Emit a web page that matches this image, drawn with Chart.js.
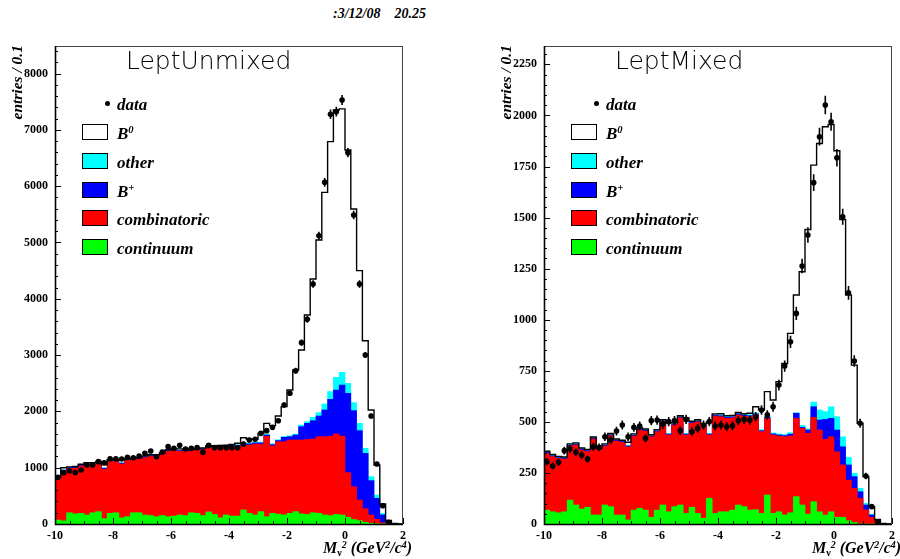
<!DOCTYPE html>
<html>
<head>
<meta charset="utf-8">
<script src="https://cdn.jsdelivr.net/npm/chart.js@4.4.0/dist/chart.umd.min.js"></script>
<style>
  body { margin: 0; width: 900px; height: 559px; overflow: hidden; background: #fff; position: relative;
         font-family: "Liberation Serif", "DejaVu Serif", serif; }
  .panel { position: absolute; top: 0; width: 411px; height: 559px; }
  .panel canvas { position: absolute; left: 0; top: 0; }
  .txt { position: absolute; font-weight: bold; font-style: italic; color: #000; white-space: nowrap; line-height: 1; }
  .ytitle { left: 9px; top: 45px; font-size: 15.5px; transform-origin: 0 0; transform: rotate(-90deg) translateX(-100%); }
  .xtitle { left: 323px; top: 540px; font-size: 16px; }
  .xtitle sub { font-size: 10px; vertical-align: -3px; font-style: normal; }
  .xtitle sup, .leg sup { font-size: 0.62em; vertical-align: 0.55em; }
  .title { position: absolute; left: 126px; top: 48px; font-family: "DejaVu Sans", sans-serif; font-weight: 200;
           font-size: 25px; line-height: 1; color: #000; white-space: nowrap; }
  .box { position: absolute; left: 82px; width: 24px; height: 14px; border: 1px solid #000; }
  .leg { position: absolute; left: 117px; font-size: 17px; font-weight: bold; font-style: italic; line-height: 1; white-space: nowrap; }
  .dot { position: absolute; left: 105px; top: 101px; width: 5px; height: 5px; border-radius: 50%; background: #000; }
  #date { left: 333px; top: 7px; font-size: 14px; white-space: pre; }
</style>
</head>
<body>
<div class="txt" id="date">:3/12/08    20.25</div>

<div class="panel" style="left:0px">
  <canvas id="unmixed" width="411" height="559"></canvas>
  <div class="title">LeptUnmixed</div>
  <div class="txt ytitle">entries / 0.1</div>
  <div class="txt xtitle">M<sub>ν</sub><sup>2</sup> (GeV<sup>2</sup>/c<sup>4</sup>)</div>
  <div class="dot"></div><div class="leg" style="top:96px">data</div>
  <div class="box" style="top:124px;background:#fff"></div><div class="leg" style="top:125px">B<sup>0</sup></div>
  <div class="box" style="top:153px;background:#00ffff"></div><div class="leg" style="top:154px">other</div>
  <div class="box" style="top:182px;background:#0000ff"></div><div class="leg" style="top:183px">B<sup>+</sup></div>
  <div class="box" style="top:210px;background:#ff0000"></div><div class="leg" style="top:211px">combinatoric</div>
  <div class="box" style="top:239px;background:#00ff00"></div><div class="leg" style="top:240px">continuum</div>
</div>

<div class="panel" style="left:489px">
  <canvas id="mixed" width="411" height="559"></canvas>
  <div class="title">LeptMixed</div>
  <div class="txt ytitle">entries / 0.1</div>
  <div class="txt xtitle">M<sub>ν</sub><sup>2</sup> (GeV<sup>2</sup>/c<sup>4</sup>)</div>
  <div class="dot"></div><div class="leg" style="top:96px">data</div>
  <div class="box" style="top:124px;background:#fff"></div><div class="leg" style="top:125px">B<sup>0</sup></div>
  <div class="box" style="top:153px;background:#00ffff"></div><div class="leg" style="top:154px">other</div>
  <div class="box" style="top:182px;background:#0000ff"></div><div class="leg" style="top:183px">B<sup>+</sup></div>
  <div class="box" style="top:210px;background:#ff0000"></div><div class="leg" style="top:211px">combinatoric</div>
  <div class="box" style="top:239px;background:#00ff00"></div><div class="leg" style="top:240px">continuum</div>
</div>

<script>
// 60 bins of 0.2 from -10 to 2
const BIN_LO = -10;
const BIN_W = 0.2;

// --- LeptUnmixed ---
// stack tops (each one is the upper edge of that fill)
const unmixedCont = [70, 55, 200, 180, 190, 160, 200, 220, 95, 190, 200, 110, 130, 200, 200, 160, 150, 130, 150, 130, 140, 160, 150, 200, 190, 150, 215, 170, 110, 160,
  140, 140, 250, 190, 160, 220, 130, 190, 175, 160, 190, 220, 180, 170, 200, 190, 160, 150, 170, 160, 120, 80, 60, 30, 12, 5, 0, 0, 0, 0];
const unmixedComb = [790, 940, 985, 990, 1030, 1040, 1060, 1080, 975, 1110, 1110, 1066, 1130, 1140, 1150, 1180, 1200, 1200, 1230, 1290, 1310, 1290, 1290, 1300, 1310, 1320, 1360, 1360, 1365, 1370,
  1374, 1374, 1403, 1403, 1420, 1420, 1560, 1390, 1462, 1462, 1492, 1492, 1492, 1500, 1510, 1551, 1551, 1560, 1599, 1560, 912, 663, 426, 272, 160, 83, 24, 5, 0, 0];
const unmixedBplus = [805, 955, 1000, 1005, 1045, 1055, 1075, 1095, 990, 1125, 1125, 1081, 1145, 1155, 1165, 1195, 1215, 1215, 1245, 1305, 1325, 1305, 1305, 1315, 1325, 1335, 1375, 1375, 1380, 1385,
  1394, 1394, 1423, 1423, 1440, 1440, 1580, 1410, 1482, 1539, 1551, 1581, 1729, 1788, 1835, 1918, 2025, 2214, 2380, 2469, 2321, 2013, 1658, 1255, 770, 456, 160, 41, 5, 0];
const unmixedOther = [815, 965, 1010, 1015, 1055, 1065, 1085, 1105, 1000, 1135, 1135, 1091, 1155, 1165, 1175, 1205, 1225, 1225, 1255, 1315, 1335, 1315, 1315, 1325, 1335, 1345, 1385, 1385, 1390, 1395,
  1409, 1409, 1438, 1438, 1455, 1455, 1595, 1425, 1497, 1554, 1566, 1596, 1758, 1818, 1895, 1977, 2131, 2350, 2605, 2694, 2499, 2155, 1788, 1344, 841, 515, 189, 59, 8, 0];
const unmixedTotal = [830, 1000, 1015, 1020, 1060, 1090, 1090, 1110, 1050, 1140, 1140, 1130, 1160, 1170, 1180, 1210, 1230, 1230, 1260, 1320, 1340, 1335, 1320, 1330, 1340, 1350, 1390, 1390, 1395, 1400,
  1415, 1433, 1533, 1504, 1504, 1610, 1788, 1747, 1918, 2084, 2380, 2735, 3091, 3712, 4352, 5044, 5891, 6791, 7353, 7373, 6643, 5595, 4500, 3256, 2025, 1048, 355, 62, 8, 0];
const unmixedData = [830, 912, 941, 912, 959, 1048, 1048, 1107, 1089, 1160, 1160, 1154, 1184, 1178, 1208, 1255, 1296, 1196, 1279, 1374, 1344, 1397, 1332, 1344, 1356, 1273, 1397, 1356, 1356, 1356,
  1356, 1356, 1421, 1492, 1504, 1610, 1658, 1717, 1835, 2114, 2321, 2723, 3221, 3636, 4263, 5121, 6069, 7277, 7324, 7531, 6596, 5488, 4263, 3002, 1918, 1066, 325, 30, 0, 0];

// --- LeptMixed ---
const mixedCont = [68, 60, 55, 60, 117, 93, 73, 82, 44, 44, 93, 85, 44, 44, 20, 68, 77, 68, 33, 68, 93, 60, 85, 93, 52, 82, 52, 28, 126, 52,
  60, 60, 68, 93, 85, 68, 70, 52, 142, 52, 60, 44, 55, 134, 93, 48, 109, 60, 44, 60, 33, 33, 16, 7, 0, 0, 0, 0, 0, 0];
const mixedComb = [346, 330, 321, 318, 382, 387, 362, 355, 416, 362, 382, 433, 406, 400, 378, 431, 460, 455, 427, 452, 501, 436, 485, 520, 436, 493, 500, 480, 436, 529,
  525, 517, 520, 534, 527, 525, 534, 452, 517, 436, 431, 428, 431, 517, 468, 444, 522, 460, 414, 427, 354, 289, 215, 175, 126, 69, 33, 11, 0, 0];
const mixedBplus = [350, 334, 325, 322, 386, 391, 366, 359, 420, 366, 386, 437, 410, 404, 382, 435, 464, 459, 431, 456, 505, 440, 489, 524, 440, 497, 504, 484, 440, 533,
  530, 522, 525, 539, 532, 530, 539, 457, 522, 441, 436, 433, 440, 542, 473, 460, 574, 509, 512, 517, 460, 378, 289, 232, 158, 93, 44, 20, 0, 0];
const mixedOther = [354, 338, 329, 326, 390, 395, 370, 363, 424, 370, 390, 441, 414, 408, 386, 439, 468, 463, 435, 460, 509, 444, 493, 528, 444, 501, 508, 488, 444, 537,
  535, 527, 530, 544, 537, 535, 544, 462, 527, 446, 441, 438, 447, 545, 483, 466, 597, 558, 550, 574, 525, 427, 326, 248, 175, 101, 49, 20, 0, 0];
const mixedTotal = [356, 340, 331, 328, 392, 397, 372, 365, 426, 372, 392, 443, 416, 410, 400, 441, 470, 465, 437, 462, 511, 496, 495, 530, 519, 503, 510, 490, 500, 539,
  540, 530, 532, 546, 540, 542, 574, 558, 648, 607, 697, 786, 933, 1121, 1235, 1442, 1757, 1863, 1945, 1956, 1827, 1491, 1121, 778, 493, 232, 85, 22, 3, 0];
const mixedData = [305, 284, 302, 359, 367, 351, 338, 318, 378, 375, 427, 411, 455, 485, 427, 473, 480, 419, 506, 509, 489, 501, 506, 457, 512, 452, 468, 485, 501, 480,
  485, 476, 481, 506, 512, 509, 525, 558, 534, 574, 680, 773, 892, 1031, 1263, 1415, 1671, 1896, 2051, 1969, 1793, 1504, 1132, 798, 493, 235, 85, 11, 0, 0];

const tickFont = { family: 'Liberation Serif', size: 12, weight: 'bold' };

function atCenters(vals) {
  return vals.map((v, i) => ({ x: BIN_LO + (i + 0.5) * BIN_W, y: v }));
}
// points on the left bin edges + closing edge, for a stepped outline
function atEdges(vals) {
  const pts = vals.map((v, i) => ({ x: BIN_LO + i * BIN_W, y: v }));
  pts.push({ x: BIN_LO + vals.length * BIN_W, y: vals[vals.length - 1] });
  return pts;
}

function fill(tops, color) {
  return { type: 'bar', data: atCenters(tops), backgroundColor: color, borderWidth: 0,
    barPercentage: 1, categoryPercentage: 1, grouped: false };
}

// vertical sqrt(N) error bars on the data points
const errorBars = {
  id: 'errorBars',
  afterDatasetsDraw(chart) {
    const { ctx, scales: { y } } = chart;
    const meta = chart.getDatasetMeta(0);
    const pts = chart.data.datasets[0].data;
    ctx.save();
    ctx.strokeStyle = '#000';
    ctx.lineWidth = 1.6;
    ctx.beginPath();
    meta.data.forEach((el, i) => {
      const n = pts[i].y;
      const e = Math.sqrt(n);
      ctx.moveTo(el.x, y.getPixelForValue(n + e));
      ctx.lineTo(el.x, y.getPixelForValue(n - e));
    });
    ctx.stroke();
    ctx.restore();
  }
};

// ROOT-like frame with ticks pointing inwards
const rootFrame = {
  id: 'rootFrame',
  afterDraw(chart, args, opts) {
    const { ctx, chartArea: a, scales: { x, y } } = chart;
    ctx.save();
    ctx.strokeStyle = '#444';
    ctx.lineWidth = 1;
    ctx.strokeRect(a.left + 0.5, a.top + 0.5, a.right - a.left - 1, a.bottom - a.top);
    ctx.strokeStyle = '#000';
    ctx.beginPath();
    const nY = Math.floor(y.max / opts.yMinor);
    for (let k = 0; k <= nY; k++) {
      const py = Math.round(y.getPixelForValue(k * opts.yMinor)) + 0.5;
      const len = k % 5 === 0 ? 6 : 3;
      ctx.moveTo(a.left, py);
      ctx.lineTo(a.left + len, py);
    }
    for (let k = 0; k <= 24; k++) {
      const px = Math.round(x.getPixelForValue(-10 + k * 0.5)) + 0.5;
      const len = k % 4 === 0 ? 6 : 3;
      ctx.moveTo(px, a.bottom);
      ctx.lineTo(px, a.bottom - len);
    }
    ctx.stroke();
    ctx.lineWidth = 1.6;
    ctx.beginPath();
    ctx.moveTo(a.left + 0.5, a.top);
    ctx.lineTo(a.left + 0.5, a.bottom + 0.5);
    ctx.lineTo(a.right, a.bottom + 0.5);
    ctx.stroke();
    ctx.restore();
  }
};

function makePanel(id, s, yMax, yStep, rightPad) {
  return new Chart(document.getElementById(id), {
    type: 'bar',
    data: {
      datasets: [
        { type: 'scatter', data: atCenters(s.data).filter(p => p.y > 0), pointRadius: 2.8,
          pointBackgroundColor: '#000', pointBorderWidth: 0 },
        { type: 'line', data: atEdges(s.total), stepped: true, borderColor: '#000', borderWidth: 1.4,
          pointRadius: 0, fill: false, tension: 0 },
        fill(s.cont, '#00ff00'),
        fill(s.comb, '#ff0000'),
        fill(s.bplus, '#0000ff'),
        fill(s.other, '#00ffff')
      ]
    },
    options: {
      responsive: false,
      animation: false,
      devicePixelRatio: 1,
      layout: { padding: { top: 46, right: rightPad, left: 0, bottom: 0 } },
      plugins: { legend: { display: false }, tooltip: { enabled: false },
                 rootFrame: { yMinor: yStep / 5 } },
      scales: {
        x: {
          type: 'linear', min: -10, max: 2, offset: false,
          grid: { display: false, drawTicks: false }, border: { display: false },
          ticks: { stepSize: 2, autoSkip: false, maxRotation: 0, padding: 5, color: '#000', font: tickFont },
          afterFit: sc => { sc.height = 35; }
        },
        y: {
          min: 0, max: yMax,
          grid: { display: false, drawTicks: false }, border: { display: false },
          ticks: { autoSkip: false, padding: 7, color: '#000', font: tickFont,
                   callback: v => String(v) },
          afterBuildTicks: sc => {
            const t = [];
            for (let v = 0; v <= yMax; v += yStep) t.push({ value: v });
            sc.ticks = t;
          },
          afterFit: sc => { sc.width = 55; }
        }
      }
    },
    plugins: [errorBars, rootFrame]
  });
}

makePanel('unmixed', { data: unmixedData, total: unmixedTotal, cont: unmixedCont, comb: unmixedComb,
  bplus: unmixedBplus, other: unmixedOther }, 8490, 1000, 4);
makePanel('mixed', { data: mixedData, total: mixedTotal, cont: mixedCont, comb: mixedComb,
  bplus: mixedBplus, other: mixedOther }, 2340, 250, 3);
</script>
</body>
</html>
